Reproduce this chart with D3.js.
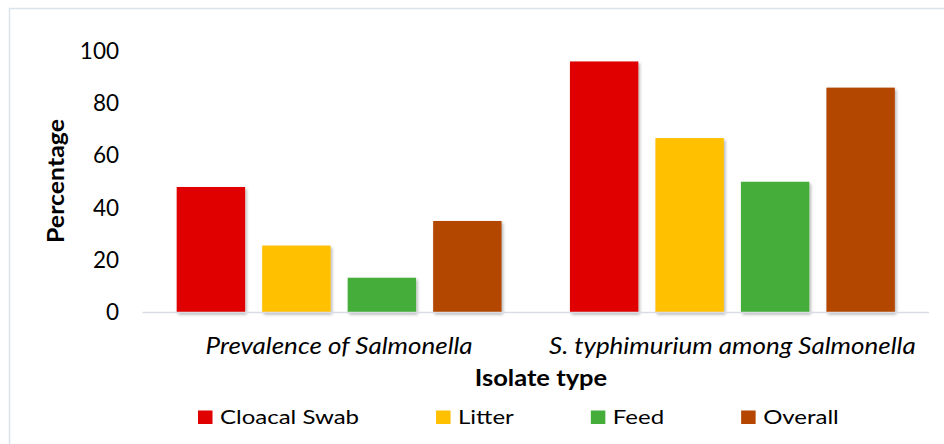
<!DOCTYPE html>
<html>
<head>
<meta charset="utf-8">
<script src="https://d3js.org/d3.v7.min.js"></script>
<style>
  body { margin: 0; background: #fff; }
  text { font-family: Lato, "Open Sans", sans-serif; fill: #000; }
</style>
</head>
<body>
<svg width="944" height="444"></svg>
<script>
"use strict";

// Data.

var categories = ["Prevalence of Salmonella", "S. typhimurium among Salmonella"];
var series = ["Cloacal Swab", "Litter", "Feed", "Overall"];
var colors = ["#e00000", "#ffc000", "#45ae3b", "#b44600"];
var cloacalSwab = [48, 96];
var litter = [25.6, 66.7];
var feed = [13.3, 50];
var overall = [35, 86];
var yTicks = [0, 20, 40, 60, 80, 100];

var values = [cloacalSwab, litter, feed, overall];

// SVG and layout.

var svg = d3.select("svg");
var Left = 142.5, Right = 929, Top = 51, Bottom = 312.5;

// The reference text looks a little wider than the font, so stretch it.
var Stretch = 1.13;

// Chart border.
svg.append("rect")
    .attr("x", 9.5).attr("y", 8.5)
    .attr("width", 950).attr("height", 450)
    .attr("fill", "none")
    .attr("stroke", "#dae2ec")
    .attr("stroke-width", 1.5);

// Drop shadow for bars.
var filter = svg.append("defs").append("filter")
    .attr("id", "shadow")
    .attr("x", "-20%").attr("y", "-20%")
    .attr("width", "140%").attr("height", "140%");
filter.append("feDropShadow")
    .attr("dx", 1.5).attr("dy", 2)
    .attr("stdDeviation", 1.6)
    .attr("flood-color", "#000")
    .attr("flood-opacity", 0.3);

// Scales.

var x0 = d3.scaleBand()
    .domain(categories)
    .range([Left, Right]);

var x1 = d3.scaleBand()
    .domain(series)
    .range([0, x0.bandwidth()])
    .paddingInner(0.2)
    .paddingOuter(0.4);

var y = d3.scaleLinear()
    .domain([0, 100])
    .range([Bottom, Top]);

// Bars.

var groups = svg.selectAll("g.group")
    .data(categories)
    .enter()
    .append("g")
        .attr("class", "group")
        .attr("transform", function(d){ return "translate(" + x0(d) + ",0)"; });

groups.selectAll("rect")
    .data(function(d, i){
        return series.map(function(s, j){ return {"s": s, "v": values[j][i], "c": colors[j]}; });
    })
    .enter()
    .append("rect")
        .attr("x", function(d){ return x1(d.s); })
        .attr("y", function(d){ return y(d.v); })
        .attr("width", x1.bandwidth())
        .attr("height", function(d){ return y(0) - y(d.v); })
        .attr("fill", function(d){ return d.c; })
        .attr("filter", "url(#shadow)");

// Baseline.

svg.append("line")
    .attr("x1", Left).attr("x2", Right)
    .attr("y1", y(0)).attr("y2", y(0))
    .attr("stroke", "#d9dde3")
    .attr("stroke-width", 1.5);

// Y axis labels.

var yAxis = svg.append("g")
    .attr("transform", "translate(119,0)")
    .call(d3.axisLeft(y).tickValues(yTicks).tickSize(0).tickPadding(0));
yAxis.select(".domain").remove();
yAxis.selectAll("text")
    .style("font-family", "Lato, sans-serif")
    .style("font-size", "22.5px")
    .attr("fill", "#000");

// X axis labels.

var xAxis = svg.append("g")
    .attr("transform", "translate(0,354)")
    .call(d3.axisBottom(x0).tickSize(0).tickPadding(0));
xAxis.select(".domain").remove();
xAxis.selectAll("text")
    .attr("y", 0)
    .attr("dy", 0)
    .attr("transform", "scale(" + Stretch + ",1)")
    .style("font-family", "Lato, sans-serif")
    .style("font-size", "23px")
    .style("font-style", "italic")
    .attr("fill", "#000");

// Axis titles.

svg.append("text")
    .attr("transform", "translate(64,181) rotate(-90) scale(" + Stretch + ",1)")
    .attr("text-anchor", "middle")
    .style("font-size", "22px")
    .style("font-weight", "bold")
    .text("Percentage");

svg.append("text")
    .attr("transform", "translate(541,386) scale(1.16,1)")
    .attr("text-anchor", "middle")
    .style("font-size", "22px")
    .style("font-weight", "bold")
    .text("Isolate type");

// Legend.

var LegendStretch = 1.2;
var legend = svg.append("g");
var lx = 198;
series.forEach(function(s, i){
    legend.append("rect")
        .attr("x", lx).attr("y", 410.5)
        .attr("width", 14.5).attr("height", 13.5)
        .attr("fill", colors[i]);
    var t = legend.append("text")
        .attr("transform", "translate(" + (lx + 22) + ",424) scale(" + LegendStretch + ",1)")
        .style("font-size", "20px")
        .text(s);
    lx += 22 + t.node().getComputedTextLength() * LegendStretch + 77;
});
</script>
</body>
</html>
